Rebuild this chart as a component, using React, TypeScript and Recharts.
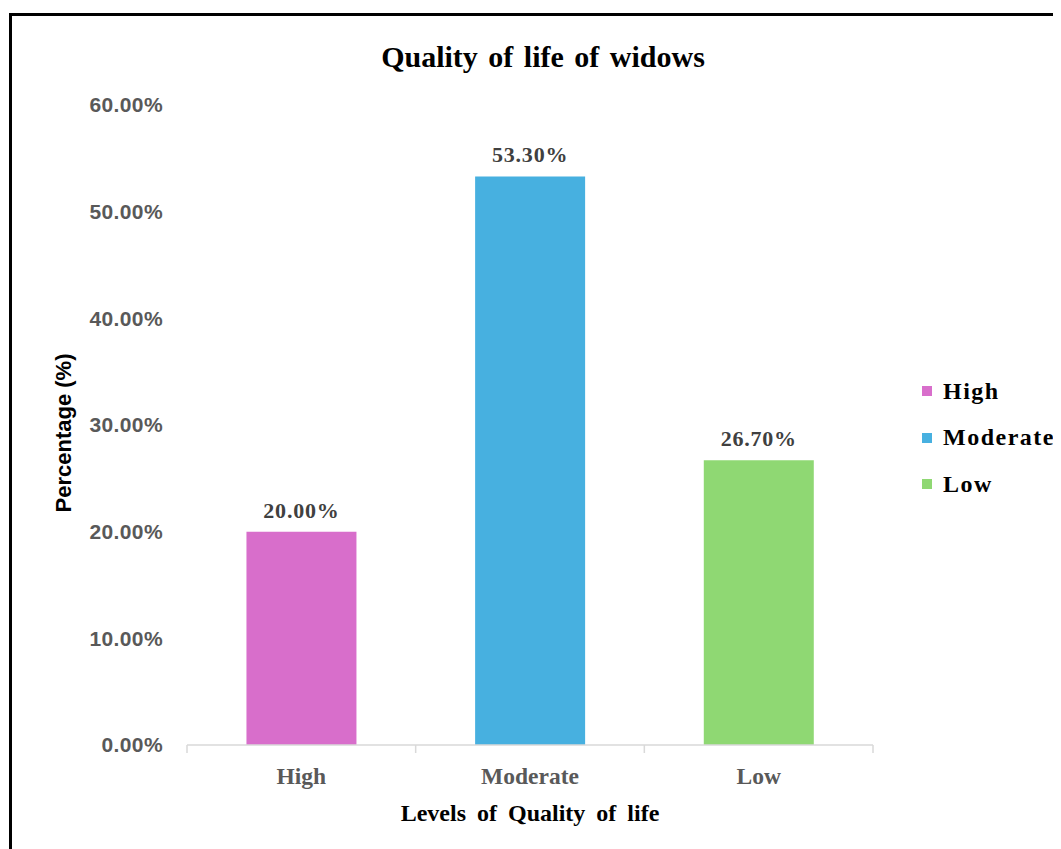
import { BarChart, Bar, XAxis, YAxis, Cell, LabelList } from 'recharts';

const levels = ['High', 'Moderate', 'Low'];
const percentages = [20.0, 53.3, 26.7];
const colors = ['#d86ecb', '#47b0e0', '#8fd873'];
const yTicks = [0, 10, 20, 30, 40, 50, 60];

const data = levels.map((level, i) => ({ level, value: percentages[i] }));

const serif = '"Liberation Serif", "Times New Roman", serif';
const sans = '"Liberation Sans", Arial, Helvetica, sans-serif';
const axisGray = '#d9d9d9';
const TICK_SIZE = 6;
const TICK_MARGIN = 14;

function YTitle(props: any) {
  const { viewBox } = props;
  const x = viewBox.x + 23;
  const y = viewBox.y + viewBox.height / 2 + 8;
  return (
    <text
      x={x}
      y={y}
      transform={`rotate(-90, ${x}, ${y})`}
      textAnchor="middle"
      dominantBaseline="central"
      fontFamily={sans}
      fontWeight="bold"
      fontSize={22}
      fill="#000"
    >
      Percentage (%)
    </text>
  );
}

// category label plus the small tick marks that sit on the category boundaries
function CategoryTick(props: any) {
  const { x, y, payload, index, visibleTicksCount, width } = props;
  const half = payload.offset || width / visibleTicksCount / 2;
  const axisY = y - TICK_SIZE - TICK_MARGIN;
  const last = index === visibleTicksCount - 1;
  return (
    <g>
      <line x1={x - half} x2={x - half} y1={axisY} y2={axisY + 8} stroke={axisGray} strokeWidth={1.5} />
      {last && <line x1={x + half} x2={x + half} y1={axisY} y2={axisY + 8} stroke={axisGray} strokeWidth={1.5} />}
      <text
        x={x}
        y={y}
        dy="0.8em"
        textAnchor="middle"
        fill="#595959"
        fontFamily={serif}
        fontWeight="bold"
        fontSize={23.5}
      >
        {payload.value}
      </text>
    </g>
  );
}

export default function App() {
  return (
    <div style={{ position: 'relative', width: 1061, height: 849, margin: '-8px 0 0 -8px', overflow: 'hidden', background: '#fff' }}>
      <div style={{ position: 'absolute', left: 9, top: 13, width: 1100, height: 900, border: '3px solid #000', boxSizing: 'border-box' }} />
      <div
        style={{
          position: 'absolute', left: 0, width: 1086, top: 40, textAlign: 'center',
          fontFamily: serif, fontWeight: 'bold', fontSize: 30, wordSpacing: 3, color: '#000',
        }}
      >
        Quality of life of widows
      </div>
      <div style={{ position: 'absolute', left: 0, top: 0 }}>
        <BarChart
          width={1061}
          height={849}
          data={data}
          margin={{ top: 105, right: 188, left: 40, bottom: 0 }}
          barCategoryGap="26%"
        >
          <XAxis
            dataKey="level"
            height={104}
            axisLine={{ stroke: axisGray, strokeWidth: 1.5 }}
            tickLine={false}
            tickSize={TICK_SIZE}
            tickMargin={TICK_MARGIN}
            tick={<CategoryTick />}
            label={{
              value: 'Levels of Quality of life',
              position: 'insideBottom',
              offset: 28,
              fill: '#000',
              fontFamily: serif,
              fontWeight: 'bold',
              fontSize: 24,
              wordSpacing: 5,
            }}
          />
          <YAxis
            width={147}
            domain={[0, 60]}
            ticks={yTicks}
            axisLine={false}
            tickLine={false}
            tickMargin={18}
            tickFormatter={(v: number) => `${v.toFixed(2)}%`}
            tick={{ fill: '#595959', fontFamily: sans, fontWeight: 'bold', fontSize: 21, letterSpacing: 0.4 }}
            label={{ content: YTitle }}
          />
          <Bar dataKey="value" isAnimationActive={false}>
            {data.map((d, i) => (
              <Cell key={d.level} fill={colors[i]} />
            ))}
            <LabelList
              dataKey="value"
              position="top"
              offset={14}
              formatter={(v: any) => `${Number(v).toFixed(2)}%`}
              style={{ fill: '#404040', fontFamily: serif, fontWeight: 'bold', fontSize: 22, letterSpacing: 0.8 }}
            />
          </Bar>
        </BarChart>
      </div>
      <div style={{ position: 'absolute', left: 922, top: 368 }}>
        {levels.map((level, i) => (
          <div key={level} style={{ display: 'flex', alignItems: 'center', height: 46.5 }}>
            <span style={{ width: 10, height: 10, background: colors[i], marginRight: 11, display: 'inline-block' }} />
            <span style={{ fontFamily: serif, fontWeight: 'bold', fontSize: 24, letterSpacing: 1.5, color: '#000' }}>{level}</span>
          </div>
        ))}
      </div>
    </div>
  );
}
